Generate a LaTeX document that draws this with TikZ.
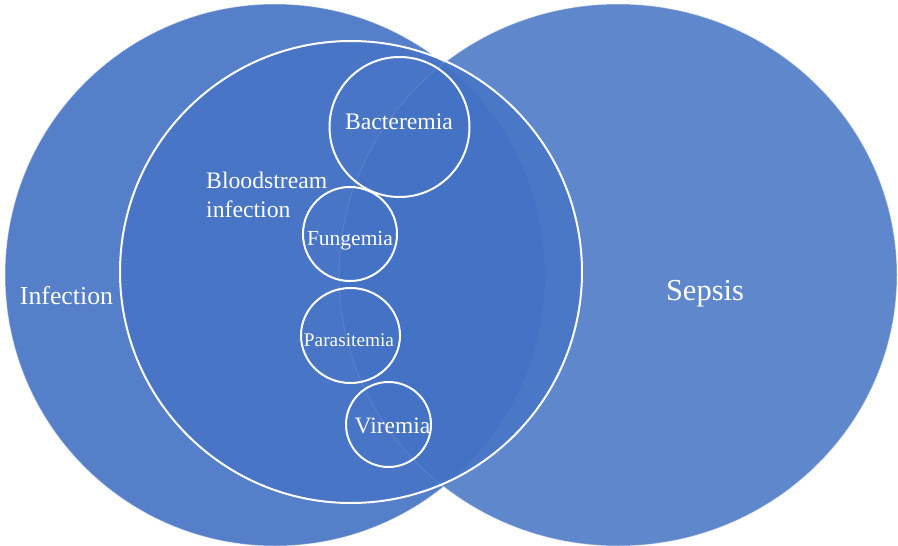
\documentclass[tikz,border=0pt]{standalone}
\usepackage{fontspec}
\newfontfamily\tnr{Liberation Serif}
\usetikzlibrary{shapes.geometric}
\definecolor{accent}{HTML}{4472C4}
\begin{document}
\begin{tikzpicture}[x=1pt,y=-1pt,
  blob/.style={ellipse, inner sep=0pt, fill=accent, fill opacity=#1, draw=white, draw opacity=0.4, line width=1pt},
  bigring/.style={ellipse, inner sep=0pt, fill=accent, fill opacity=0.75, draw=white, draw opacity=1, line width=2pt},
  ring/.style={ellipse, inner sep=0pt, draw=white, line width=2pt},
  lbl/.style={text=white, inner sep=0pt, anchor=base, font=\tnr\fontsize{#1}{#1}\selectfont}]
\useasboundingbox (0,0) rectangle (898,546);
\fill[white] (0,0) rectangle (898,546);
\node[blob=0.9, minimum width=540pt, minimum height=542pt] (infection) at (275,275) {};
\node[blob=0.85, minimum width=558pt, minimum height=542pt] (sepsis) at (618,275) {};
\node[bigring, minimum width=462pt, minimum height=462pt] (bsi) at (351,272) {};
\node[ring, minimum width=140pt, minimum height=140pt] (bact) at (399.5,127) {};
\node[ring, minimum width=94pt, minimum height=94pt] (fung) at (350,234) {};
\node[ring, minimum width=99pt, minimum height=95pt] (para) at (350.5,335.5) {};
\node[ring, minimum width=85pt, minimum height=85pt] (vir) at (388.5,424.5) {};
\node[lbl=25.8] (tinf) at (66.5,304) {Infection};
\node[lbl=30.5] (tsep) at (705,300) {Sepsis};
\node[lbl=23.7] (tbact) at (399,129) {Bacteremia};
\node[lbl=21.5] (tfung) at (350,245) {Fungemia};
\node[lbl=19.3] (tpara) at (349,346) {Parasitemia};
\node[lbl=23.5] (tvir) at (392.5,433) {Viremia};
\node[text=white, inner sep=0pt, anchor=north west, align=left,
  font=\tnr\fontsize{23.7}{29}\selectfont] (tbsi) at (206,172) {Bloodstream\\infection};
\end{tikzpicture}
\end{document}
